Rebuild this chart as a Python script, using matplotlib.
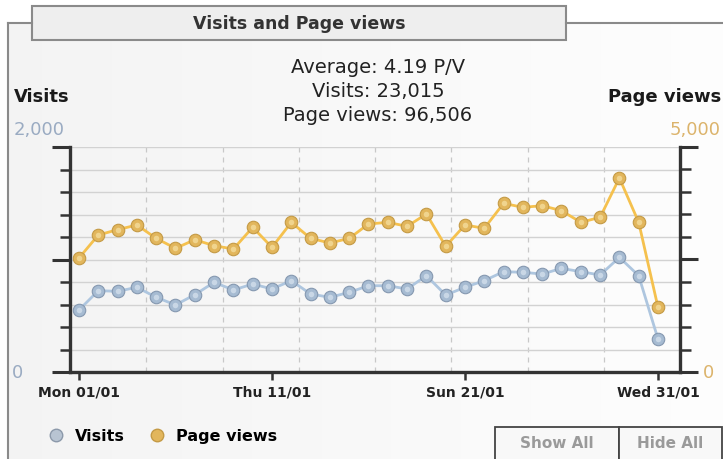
import numpy as np
import matplotlib
matplotlib.use("Agg")
import matplotlib.pyplot as plt
from matplotlib.lines import Line2D
from matplotlib.patches import Rectangle
from matplotlib.ticker import MultipleLocator

W, H = 723, 460

# data (January, one point per day)
days = list(range(1, 32))
visits = [551, 723, 717, 753, 664, 596, 687, 797, 729, 782, 738, 812, 693, 664, 708, 767,
          767, 738, 856, 684, 753, 812, 892, 886, 871, 921, 892, 862, 1019, 856, 293]
page_views = [2533, 3044, 3163, 3267, 2970, 2748, 2940, 2807, 2733, 3215, 2770, 3326, 2970, 2867, 2970, 3289,
              3326, 3237, 3511, 2793, 3267, 3193, 3748, 3659, 3696, 3585, 3326, 3437, 4311, 3326, 1437]
tick_days = [1, 11, 21, 31]
tick_labels = ["Mon 01/01", "Thu 11/01", "Sun 21/01", "Wed 31/01"]
summary = ["Average: 4.19 P/V", "Visits: 23,015", "Page views: 96,506"]

VIS_LINE, VIS_DOT, VIS_EDGE, VIS_TXT = "#aec6df", "#a6bbd2", "#8598b0", "#9aabc2"
PV_LINE, PV_DOT, PV_EDGE, PV_TXT = "#f5c14e", "#e2b65c", "#c49a45", "#dcb46c"
AX_COL = "#333333"


def fx(px):
    return px / W


def fy(py):
    return 1 - py / H


fig = plt.figure(figsize=(W / 100, H / 100), dpi=100)
fig.patch.set_facecolor("white")

# panel background (light grey gradient) + frame
bg = fig.add_axes([fx(8), 0, 1 - fx(8), fy(24)], zorder=-5)
grad = np.linspace(0.955, 0.995, 256).reshape(1, -1)
bg.imshow(np.dstack([grad, grad, grad]), aspect="auto", extent=[0, 1, 0, 1])
bg.axis("off")

frame_kw = dict(color="#8a8a8a", lw=1.5, transform=fig.transFigure)
fig.add_artist(Line2D([fx(8), fx(8)], [fy(24), 0], **frame_kw))
fig.add_artist(Line2D([fx(8), fx(32)], [fy(24), fy(24)], **frame_kw))
fig.add_artist(Line2D([fx(566), 1], [fy(24), fy(24)], **frame_kw))
fig.add_artist(Rectangle((fx(32), fy(41)), fx(566) - fx(32), fy(7) - fy(41),
                         facecolor="#eeeeee", edgecolor="#8a8a8a", lw=1.5,
                         transform=fig.transFigure))
fig.text(fx(299), fy(24), "Visits and Page views", ha="center", va="center",
         fontsize=12.5, fontweight="bold", color="#333333")

# summary text
for i, s in enumerate(summary):
    fig.text(fx(378), fy(73 + 24 * i), s, ha="center", va="baseline",
             fontsize=14, color="#222222")

# axis captions
fig.text(fx(14), fy(102), "Visits", ha="left", va="baseline", fontsize=13,
         fontweight="bold", color="#1a1a1a")
fig.text(fx(14), fy(135), "2,000", ha="left", va="baseline", fontsize=13, color=VIS_TXT)
fig.text(fx(721), fy(102), "Page views", ha="right", va="baseline", fontsize=13,
         fontweight="bold", color="#1a1a1a")
fig.text(fx(721), fy(135), "5,000", ha="right", va="baseline", fontsize=13, color=PV_TXT)
fig.text(fx(12), fy(373), "0", ha="left", va="center", fontsize=13, color=VIS_TXT)
fig.text(fx(703), fy(373), "0", ha="left", va="center", fontsize=13, color=PV_TXT)

# main chart
ax = fig.add_axes([fx(70), fy(373), fx(680) - fx(70), fy(148) - fy(373)])
ax.set_facecolor("none")
ax2 = ax.twinx()

ax.set_xlim(0.534, 32.14)
ax.set_ylim(0, 2000)
ax2.set_ylim(0, 5000)

ax.yaxis.set_major_locator(MultipleLocator(1000))
ax.yaxis.set_minor_locator(MultipleLocator(200))
ax2.yaxis.set_major_locator(MultipleLocator(2500))
ax2.yaxis.set_minor_locator(MultipleLocator(500))
ax.grid(True, axis="y", which="both", color="#d2d2d2", lw=1)
ax.set_axisbelow(True)

for k in range(1, 8):
    ax.plot([k / 8, k / 8], [0, 1], transform=ax.transAxes, color="#c8c8c8",
            lw=0.9, ls=(0, (4, 4)), zorder=0.5)

for a in (ax, ax2):
    a.spines["top"].set_visible(False)
    for side in ("left", "right", "bottom"):
        a.spines[side].set_color(AX_COL)
        a.spines[side].set_linewidth(2.4)
ax.spines["right"].set_visible(False)
ax2.spines["left"].set_visible(False)
ax2.spines["bottom"].set_visible(False)

ax.tick_params(axis="y", which="major", direction="out", length=13, width=2.2,
               color=AX_COL, labelleft=False)
ax.tick_params(axis="y", which="minor", direction="out", length=7.5, width=1.8,
               color=AX_COL)
ax2.tick_params(axis="y", which="major", direction="out", length=13, width=2.2,
                color=AX_COL, labelright=False)
ax2.tick_params(axis="y", which="minor", direction="out", length=8, width=1.8,
                color=AX_COL)

ax.set_xticks(tick_days)
ax.set_xticklabels(tick_labels, fontsize=10, fontweight="bold", color="#222222")
ax.tick_params(axis="x", direction="out", length=6, width=1.8, color=AX_COL, pad=3)

ax.plot(days, visits, color=VIS_LINE, lw=2, marker="o", ms=9,
        mfc=VIS_DOT, mec=VIS_EDGE, mew=0.8, zorder=3, clip_on=False)
ax.plot(days, visits, ls="none", marker="o", ms=4, mfc="#c9d7e6", mec="none",
        zorder=4, clip_on=False)
ax2.plot(days, page_views, color=PV_LINE, lw=2, marker="o", ms=9,
         mfc=PV_DOT, mec=PV_EDGE, mew=0.8, zorder=3, clip_on=False)
ax2.plot(days, page_views, ls="none", marker="o", ms=4, mfc="#f0d48e", mec="none",
         zorder=4, clip_on=False)

# legend
handles = [
    Line2D([], [], ls="none", marker="o", ms=9, mfc="#b8c4d2", mec="#8c99aa"),
    Line2D([], [], ls="none", marker="o", ms=9, mfc=PV_DOT, mec=PV_EDGE),
]
fig.legend(handles, ["Visits", "Page views"], loc="center left",
           bbox_to_anchor=(fx(32), fy(437)), ncol=2, frameon=False,
           prop={"weight": "bold", "size": 11.5}, handletextpad=0.6,
           columnspacing=1.4, handlelength=1.2)

# buttons
for x0, x1, label in [(495, 619, "Show All"), (619, 722, "Hide All")]:
    fig.add_artist(Rectangle((fx(x0), fy(462)), fx(x1) - fx(x0), fy(428) - fy(462),
                             facecolor="#f8f8f8", edgecolor="#444444", lw=1.3,
                             transform=fig.transFigure))
    fig.text(fx((x0 + x1) / 2), fy(444), label, ha="center", va="center",
             fontsize=11, fontweight="bold", color="#9a9a9a")

fig.savefig("out.png", dpi=100, facecolor=fig.get_facecolor())
